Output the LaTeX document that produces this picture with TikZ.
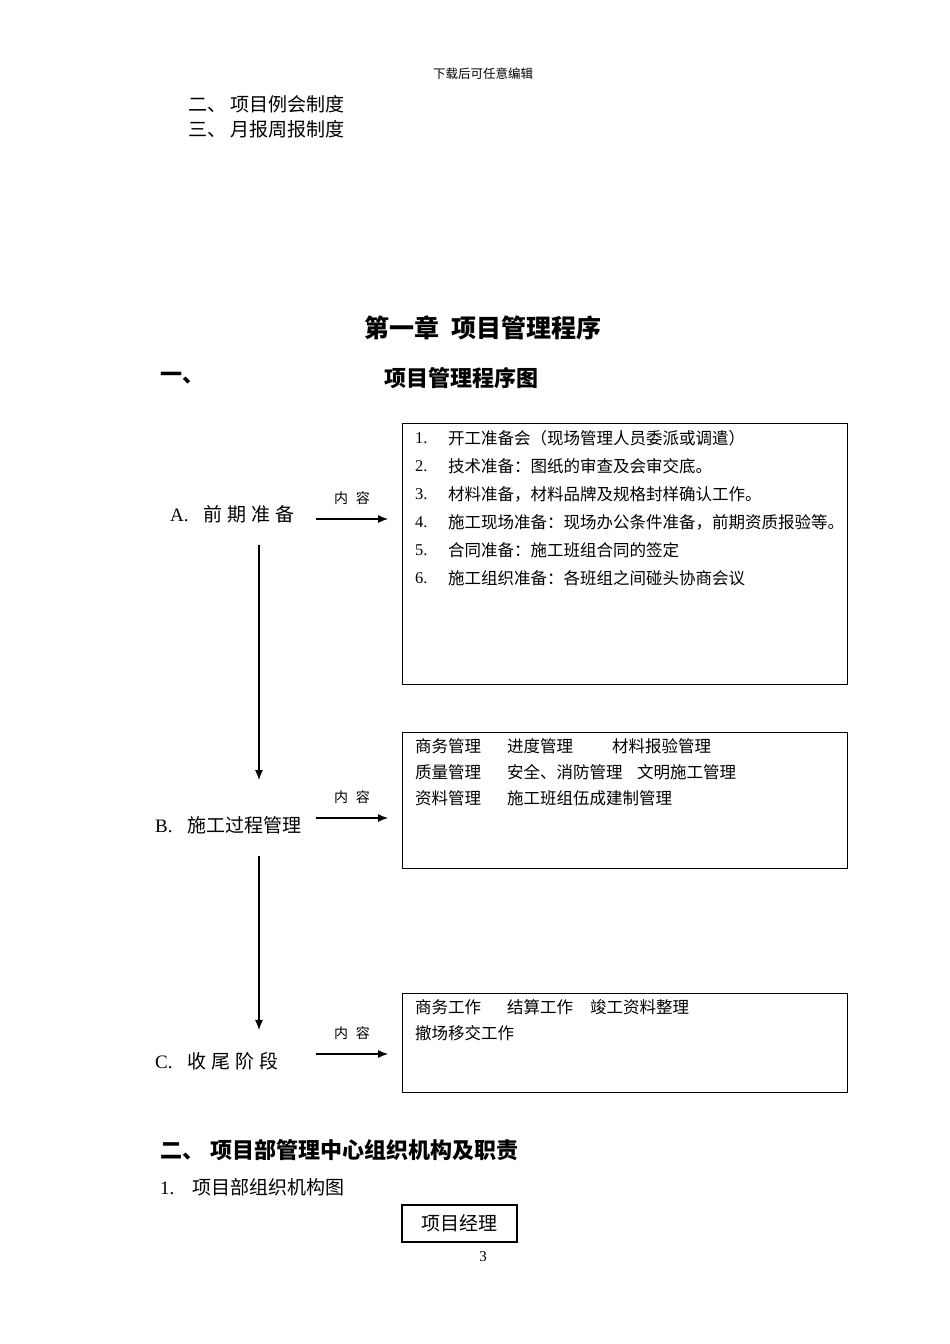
\documentclass[tikz,border=0pt]{standalone}
\usepackage{fontspec}
\setmainfont{Noto Sans CJK SC}
\newfontfamily\latin{Liberation Serif}
\usetikzlibrary{arrows.meta,positioning,calc}
\newcommand{\kong}{\hspace{5pt}}

\begin{document}
\begin{tikzpicture}[
    x=1pt, y=-1pt,
    panel/.style={rectangle, draw, line width=1.1pt, anchor=north west, inner sep=0pt},
    txt/.style={anchor=west, inner sep=0pt, font=\fontsize{16.5}{18}\selectfont},
    body/.style={anchor=west, inner sep=0pt, font=\fontsize{19}{22}\selectfont},
    head/.style={anchor=west, inner sep=0pt, font=\fontsize{22}{24}\selectfont\bfseries},
    stage/.style={anchor=west, inner sep=0pt, font=\fontsize{19}{22}\selectfont},
    lbl/.style={inner sep=0pt, font=\fontsize{14}{16}\selectfont},
    arrow/.style={-{Latex[length=10pt,width=8pt]}, line width=1.1pt}
]
    \fill[white] (0,0) rectangle (950,1344);
    \useasboundingbox (0,0) rectangle (950,1344);

    % page head
    \node[inner sep=0pt, font=\fontsize{12.5}{14}\selectfont] (hdr) at (483,74) {下载后可任意编辑};
    \node[body] (rule2) at (188,104) {二、\hspace{4pt}项目例会制度};
    \node[body] (rule3) at (188,129) {三、\hspace{4pt}月报周报制度};

    \node[inner sep=0pt, font=\fontsize{25}{28}\selectfont\bfseries] (chap) at (483,328) {第一章\hspace{12pt}项目管理程序};
    \node[head] (sec1) at (160,378) {一、};
    \node[head] (sec1t) at (384,378) {项目管理程序图};

    % stages
    \node[stage] (stageA) at (170,514) {{\latin A.}\hspace{15pt}前\kong 期\kong 准\kong 备};
    \node[stage] (stageB) at (155,825) {{\latin B.}\hspace{15pt}施工过程管理};
    \node[stage] (stageC) at (155,1061) {{\latin C.}\hspace{15pt}收\kong 尾\kong 阶\kong 段};
    \coordinate (spine) at (259,0);

    % content boxes
    \node[panel, minimum width=445pt, minimum height=261pt] (boxA) at (402,423) {};
    \node[panel, minimum width=445pt, minimum height=136pt] (boxB) at (402,732) {};
    \node[panel, minimum width=445pt, minimum height=99pt] (boxC) at (402,993) {};

    \foreach \t [count=\i] in {开工准备会（现场管理人员委派或调遣）,
                               技术准备：图纸的审查及会审交底。,
                               材料准备，材料品牌及规格封样确认工作。,
                               施工现场准备：现场办公条件准备，前期资质报验等。,
                               合同准备：施工班组合同的签定,
                               施工组织准备：各班组之间碰头协商会议} {
        \node[txt] (numA\i) at (415,{438+28*(\i-1)}) {\latin\i.};
        \node[txt] (itemA\i) at (448,{438+28*(\i-1)}) {\t};
    }

    \node[txt] (b11) at (415,746) {商务管理};
    \node[txt] (b12) at (507,746) {进度管理};
    \node[txt] (b13) at (612,746) {材料报验管理};
    \node[txt] (b21) at (415,772) {质量管理};
    \node[txt] (b22) at (507,772) {安全、消防管理};
    \node[txt] (b23) at (637,772) {文明施工管理};
    \node[txt] (b31) at (415,798) {资料管理};
    \node[txt] (b32) at (507,798) {施工班组伍成建制管理};

    \node[txt] (c11) at (415,1007) {商务工作};
    \node[txt] (c12) at (507,1007) {结算工作};
    \node[txt] (c13) at (590,1007) {竣工资料整理};
    \node[txt] (c21) at (415,1033) {撤场移交工作};

    % arrows
    \draw[arrow] ($(stageA.west -| spine)+(57,5)$) -- ($(stageA.west -| boxA.west)+(-14,5)$)
        node[midway, above=14pt, lbl] {内\hspace{8pt}容};
    \draw[arrow] ($(stageB.west -| spine)+(57,-7)$) -- ($(stageB.west -| boxB.west)+(-14,-7)$)
        node[midway, above=14pt, lbl] {内\hspace{8pt}容};
    \draw[arrow] ($(stageC.west -| spine)+(57,-7)$) -- ($(stageC.west -| boxC.west)+(-14,-7)$)
        node[midway, above=14pt, lbl] {内\hspace{8pt}容};
    \draw[arrow] ($(stageA.south -| spine)+(0,22)$) -- ($(stageB.north -| spine)+(0,-36)$);
    \draw[arrow] ($(stageB.south -| spine)+(0,22)$) -- ($(stageC.north -| spine)+(0,-22)$);

    % section two
    \node[head] (sec2) at (160,1150) {二、\hspace{6pt}项目部管理中心组织机构及职责};
    \node[body] (sec2a) at (160,1187) {{\latin 1.}\hspace{18pt}项目部组织机构图};
    \node[draw, line width=1.1pt, minimum width=115pt, minimum height=37pt, inner sep=0pt,
          font=\fontsize{19}{22}\selectfont] (pm) at (459.5,1223.5) {项目经理};
    \node[inner sep=0pt, font=\latin\fontsize{15}{16}\selectfont] (pgno) at (483,1257) {3};
\end{tikzpicture}
\end{document}
